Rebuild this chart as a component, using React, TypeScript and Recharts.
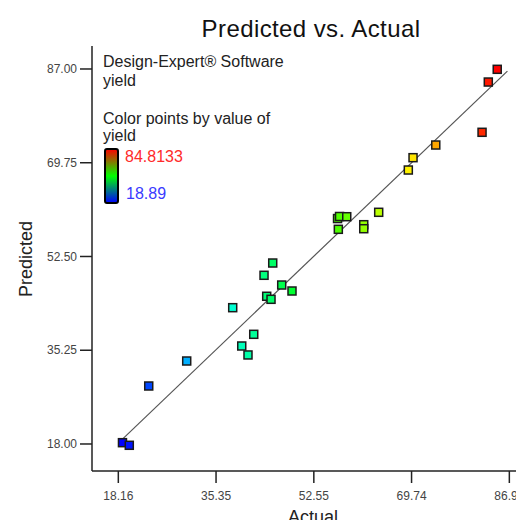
import React from 'react';
import { ScatterChart, Scatter, XAxis, YAxis, ReferenceLine } from 'recharts';

const actual = [18.89, 20.09, 23.51, 30.19, 38.28, 39.87, 40.97, 41.98, 43.79, 45.32, 44.26, 45.02, 46.9, 48.71, 56.72, 57.07, 58.34, 56.86, 61.33, 61.33, 63.96, 69.17, 70.0, 74.0, 82.14, 83.24, 84.81];
const predicted = [18.24, 17.76, 28.67, 33.27, 43.08, 36.03, 34.38, 38.18, 49.04, 51.3, 45.18, 44.62, 47.25, 46.15, 59.48, 59.86, 59.82, 57.5, 58.35, 57.61, 60.63, 68.41, 70.68, 73.01, 75.35, 84.6, 86.94];
const xTicks = [18.16, 35.35, 52.55, 69.74, 86.94];
const yTicks = [18.0, 35.25, 52.5, 69.75, 87.0];
const colorMin = 18.89;
const colorMax = 84.8133;
const fitLine = [18.89, 86.6];

const xDomain: [number, number] = [13.53, 93.74];
const yDomain: [number, number] = [13.03, 91.23];

const points = actual.map((a, i) => ({ actual: a, predicted: predicted[i] }));

function colorFor(v: number) {
  let t = (v - colorMin) / (colorMax - colorMin);
  t = Math.max(0, Math.min(1, t));
  return `hsl(${240 * (1 - t)}, 100%, 50%)`;
}

const SquareShape = (props: any) => {
  const { cx, cy, payload } = props;
  const s = 8;
  return (
    <rect x={cx - s / 2} y={cy - s / 2} width={s} height={s} fill={colorFor(payload.actual)} stroke="#1a1a1a" strokeWidth={1.5} />
  );
};

const FONT = '"Liberation Sans", Arial, sans-serif';
const tickStyle = { fontSize: 12, fill: '#444', fontFamily: FONT };

export default function App() {
  return (
    <div style={{ position: 'relative', width: 516, height: 520, overflow: 'hidden', marginBottom: -8 }}>
      <ScatterChart width={540} height={520} margin={{ top: 38, right: 0, left: 0, bottom: 0 }} style={{ fontFamily: FONT }}>
        <XAxis
          xAxisId="top"
          orientation="top"
          type="number"
          dataKey="actual"
          domain={xDomain}
          allowDataOverflow
          height={0}
          tick={false}
          tickLine={false}
          axisLine={{ stroke: '#222', strokeWidth: 1.5 }}
        />
        <XAxis
          type="number"
          dataKey="actual"
          domain={xDomain}
          allowDataOverflow
          ticks={xTicks}
          interval={0}
          tickFormatter={(v: number) => v.toFixed(2)}
          height={57}
          tickSize={12}
          tickMargin={8}
          tick={tickStyle}
          axisLine={{ stroke: '#222', strokeWidth: 1.5 }}
          tickLine={{ stroke: '#222', strokeWidth: 1.5 }}
        />
        <YAxis
          type="number"
          dataKey="predicted"
          domain={yDomain}
          allowDataOverflow
          ticks={yTicks}
          interval={0}
          tickFormatter={(v: number) => v.toFixed(2)}
          width={84}
          tickSize={12}
          tickMargin={3}
          tick={tickStyle}
          axisLine={{ stroke: '#222', strokeWidth: 1.5 }}
          tickLine={{ stroke: '#222', strokeWidth: 1.5 }}
        />
        <Scatter data={points} shape={SquareShape} isAnimationActive={false} />
        <ReferenceLine
          segment={[{ x: fitLine[0], y: fitLine[0] }, { x: fitLine[1], y: fitLine[1] }]}
          stroke="#555"
          strokeWidth={1.2}
        />
        <text x={303} y={29} textAnchor="middle" fontSize={24} fill="#111" fontFamily={FONT} letterSpacing={0.4}>Predicted vs. Actual</text>
        <text x={24} y={251} textAnchor="middle" fontSize={18} fill="#222" fontFamily={FONT} transform="rotate(-90, 24, 251)">Predicted</text>
        <text x={305} y={515} textAnchor="middle" fontSize={18} fill="#222" fontFamily={FONT}>Actual</text>
        <text x={95} y={59} fontSize={16} fill="#222" fontFamily={FONT}>Design-Expert® Software</text>
        <text x={95} y={78} fontSize={16} fill="#222" fontFamily={FONT}>yield</text>
        <text x={95} y={116} fontSize={16} fill="#222" fontFamily={FONT}>Color points by value of</text>
        <text x={95} y={133} fontSize={16} fill="#222" fontFamily={FONT}>yield</text>
        <defs>
          <linearGradient id="cbar" x1="0" y1="0" x2="0" y2="1">
            <stop offset="0%" stopColor="#ff0000" />
            <stop offset="50%" stopColor="#00ff00" />
            <stop offset="100%" stopColor="#0000ff" />
          </linearGradient>
        </defs>
        <rect x={97} y={141} width={13} height={54} rx={2} fill="url(#cbar)" stroke="#000" strokeWidth={2} />
        <text x={117} y={154} fontSize={16} fill="#ff2a2a" fontFamily={FONT}>{String(colorMax)}</text>
        <text x={118} y={191} fontSize={16} fill="#3a3aff" fontFamily={FONT}>{String(colorMin)}</text>
      </ScatterChart>
    </div>
  );
}
